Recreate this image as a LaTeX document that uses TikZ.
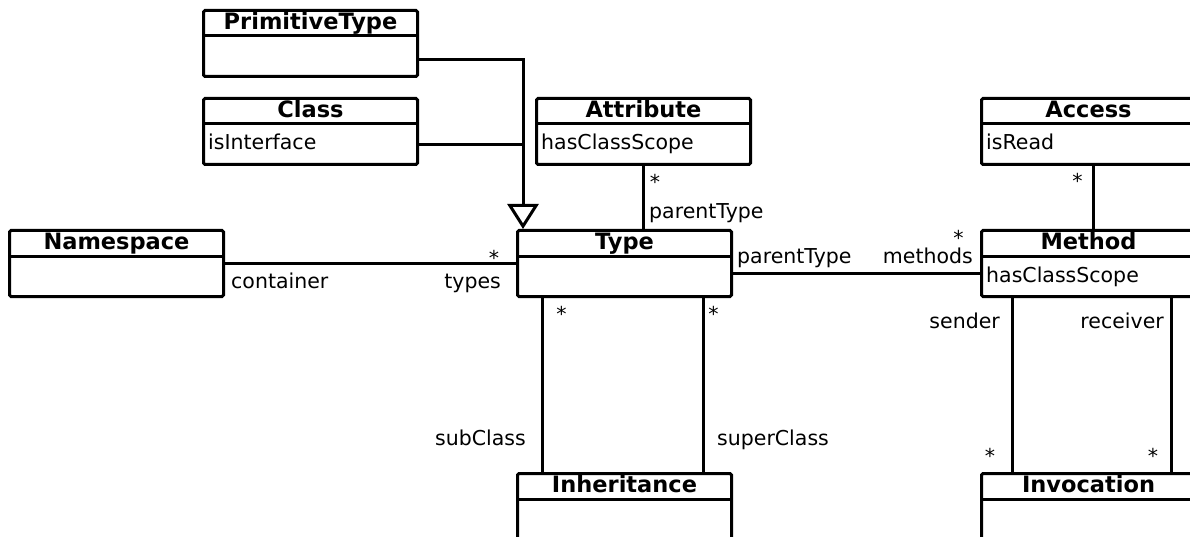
\documentclass[tikz,border=0pt]{standalone}
\usepackage{fontspec}
\setmainfont{DejaVu Sans}
\usetikzlibrary{arrows.meta,calc}

\tikzset{
  classbox/.style={draw, line width=3pt, rounded corners=1.5pt, minimum width=214pt,
    minimum height=66pt, anchor=north west, inner sep=0pt},
  classname/.style={font=\bfseries\fontsize{22.5}{27}\selectfont, anchor=base, inner sep=0pt},
  attr/.style={font=\fontsize{20.5}{24}\selectfont, anchor=base west, inner sep=0pt},
  role/.style={font=\fontsize{20.5}{24}\selectfont, inner sep=0pt},
  mult/.style={role, anchor=base},
  assoc/.style={line width=3pt},
}

% UML class: name, left, top, title, attribute line
\newcommand\umlclass[5]{%
  \node[classbox] (#1) at (#2,#3) {};
  \draw[line width=3pt] ($(#1.north west)+(0,27)$) -- ($(#1.north east)+(0,27)$);
  \node[classname] (#1-name) at ($(#1.north)+(0,20.5)$) {#4};
  \node[attr] (#1-attr) at ($(#1.north west)+(6,53)$) {#5};
}

\begin{document}
\begin{tikzpicture}[x=1pt,y=-1pt]
\useasboundingbox (0,0) rectangle (1190,537);
\clip (0,0) rectangle (1190,537);

% classes
\umlclass{primitivetype}{202}{9}{PrimitiveType}{}
\umlclass{class}{202}{97}{Class}{isInterface}
\umlclass{attribute}{535}{97}{Attribute}{hasClassScope}
\umlclass{access}{980}{97}{Access}{isRead}
\umlclass{namespace}{8}{229}{Namespace}{}
\umlclass{type}{516}{229}{Type}{}
\umlclass{method}{980}{229}{Method}{hasClassScope}
\umlclass{inheritance}{516}{472}{Inheritance}{}
\umlclass{invocation}{980}{472}{Invocation}{}

% generalization into Type
\coordinate (gen) at ($(type.north west)+(7,0)$);
\coordinate (ptport) at ($(primitivetype.east)+(0,16)$);
\coordinate (clsport) at ($(class.east)+(0,13)$);
\draw[assoc, -{Triangle[open, length=25pt, width=31pt, line width=3pt]}] (ptport) -| (gen);
\draw[assoc] (clsport) -- (clsport -| gen);

% associations
\draw[assoc] (namespace.east) -- (type.west);
\draw[assoc] (attribute.south) -- (attribute.south |- type.north);
\draw[assoc] ($(type.east)+(0,10)$) -- ($(method.west)+(0,10)$);
\draw[assoc] ($(access.south)+(5,0)$) -- ($(method.north)+(5,0)$);
\draw[assoc] ($(type.south west)+(26,0)$) -- ($(inheritance.north west)+(26,0)$);
\draw[assoc] ($(type.south east)+(-30,0)$) -- ($(inheritance.north east)+(-30,0)$);
\draw[assoc] ($(method.south west)+(32,0)$) -- ($(invocation.north west)+(32,0)$);
\draw[assoc] ($(method.south east)+(-26,0)$) -- ($(invocation.north east)+(-26,0)$);

% role names
\node[role, anchor=base west] (r-container) at (231,288) {container};
\node[role, anchor=base east] (r-types) at (501,288) {types};
\node[role, anchor=base west] (r-parent1) at (649,219) {parentType};
\node[role, anchor=base west] (r-parent2) at (737,263) {parentType};
\node[role, anchor=base east] (r-methods) at (973,263) {methods};
\node[role, anchor=base east] (r-sub) at (526,445) {subClass};
\node[role, anchor=base west] (r-super) at (717,445) {superClass};
\node[role, anchor=base east] (r-sender) at (1000,328) {sender};
\node[role, anchor=base east] (r-receiver) at (1164,328) {receiver};

% multiplicities
\node[mult] (m-types) at (494,265.5) {*};
\node[mult] (m-attr) at (655,189.5) {*};
\node[mult] (m-methods) at (958.5,245.5) {*};
\node[mult] (m-access) at (1077.5,188.5) {*};
\node[mult] (m-sub) at (561.5,321.5) {*};
\node[mult] (m-super) at (713.5,321.5) {*};
\node[mult] (m-sender) at (990,463.5) {*};
\node[mult] (m-receiver) at (1153,463.5) {*};
\end{tikzpicture}
\end{document}
